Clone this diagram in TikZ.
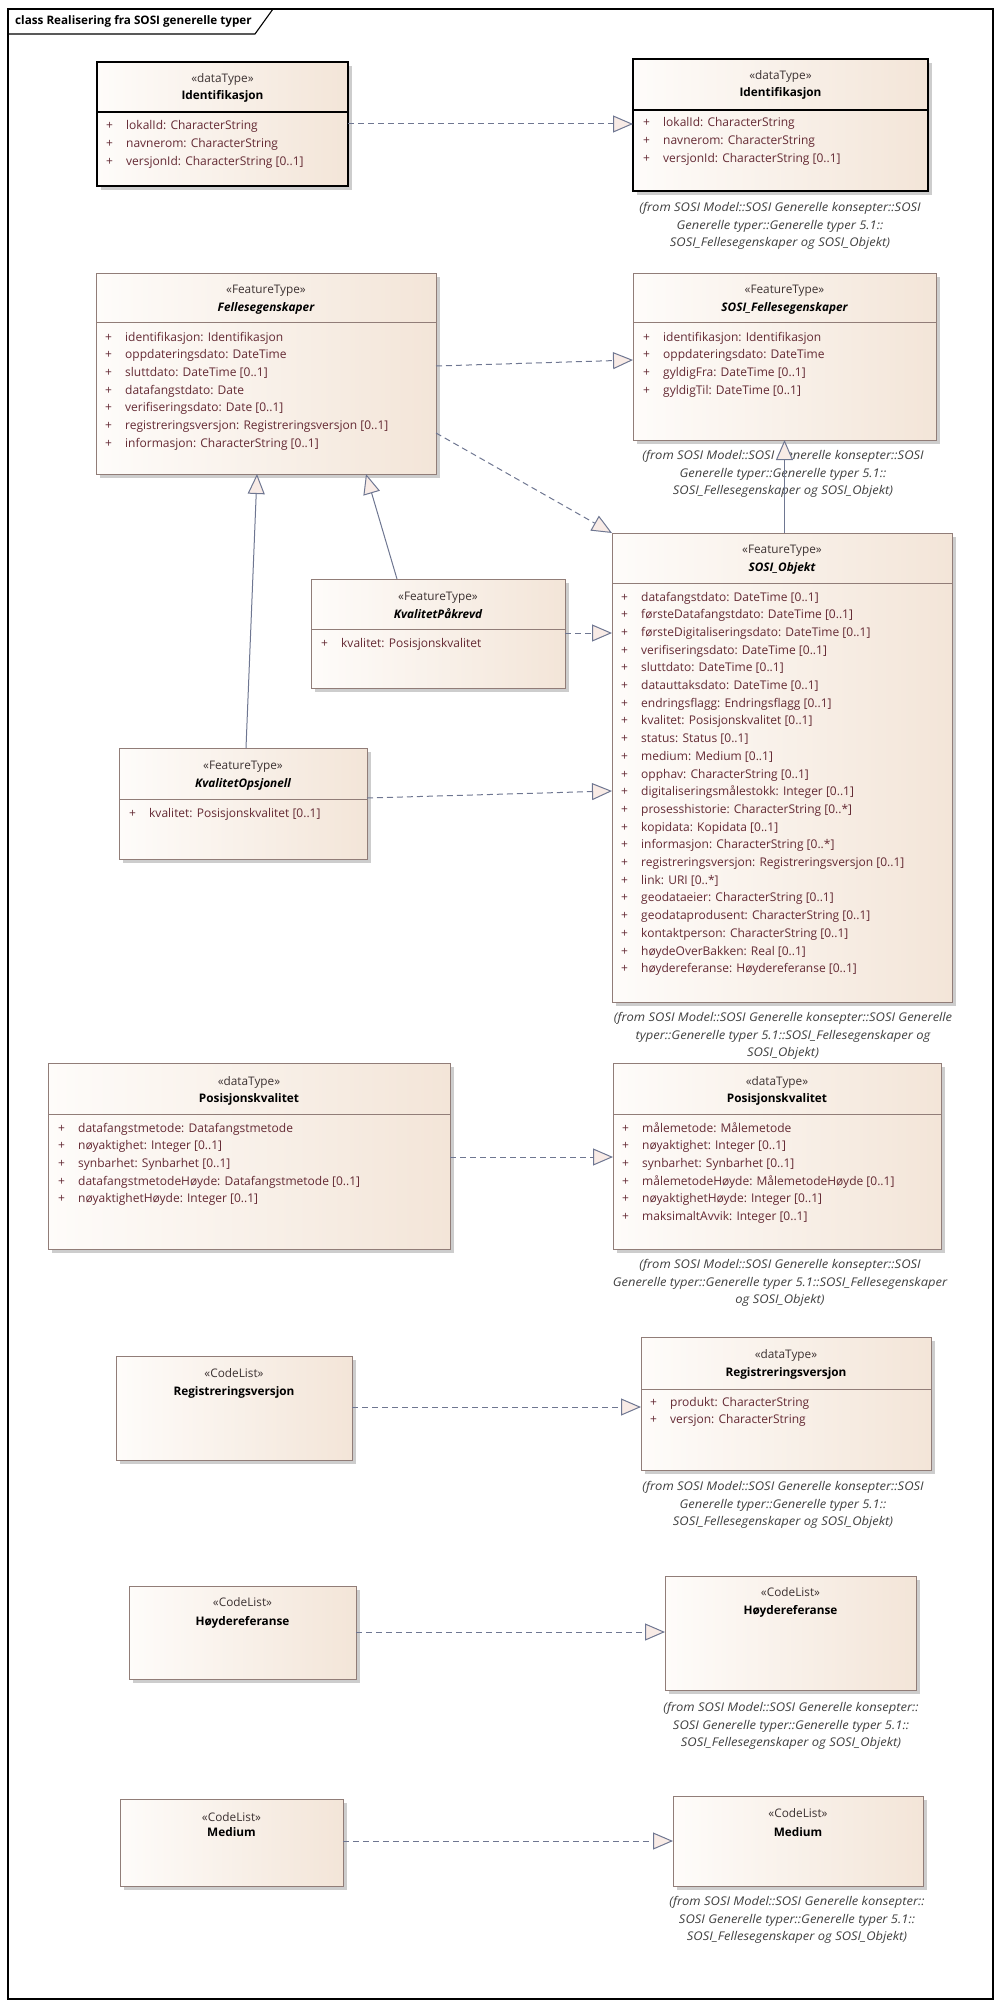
\documentclass[tikz,border=0pt]{standalone}
\usepackage{fontspec}
\setmainfont{Open Sans}
\newfontfamily\notefont[FakeStretch=1.08]{Open Sans}
\usetikzlibrary{arrows.meta,backgrounds,calc}
\definecolor{boxL}{RGB}{254,252,250}
\definecolor{boxR}{RGB}{243,229,216}
\definecolor{bord}{RGB}{145,125,120}
\definecolor{attrc}{RGB}{100,42,52}
\definecolor{stc}{RGB}{60,50,50}
\definecolor{notec}{RGB}{64,64,64}
\definecolor{conn}{RGB}{110,118,145}
\definecolor{trif}{RGB}{248,235,230}
\definecolor{shad}{RGB}{205,205,205}
\newcommand\attrlist[1]{\begin{tabular}[t]{@{}p{20pt}@{}l@{}}#1\end{tabular}}
\newcommand\ubox[6]{\node[#2, minimum width={#5-#3}, minimum height={#6-#4}] (#1) at (#3,#4) {};}
\tikzset{
 cls/.style={draw=bord, line width=0.8pt, left color=boxL, right color=boxR, inner sep=0pt, outer sep=0pt, anchor=north west},
 clsbold/.style={cls, draw=black, line width=1.8pt},
 sepline/.style={draw=bord, line width=0.8pt},
 sepbold/.style={draw=black, line width=1.2pt},
 stereo/.style={font=\fontsize{11.8}{13}\selectfont, text=stc, anchor=base, inner sep=0pt},
 nm/.style={font=\fontsize{11.8}{13}\selectfont\bfseries, anchor=base, inner sep=0pt},
 nmi/.style={nm, font=\fontsize{11.8}{13}\selectfont\bfseries\itshape},
 attr/.style={font=\fontsize{12}{17.7}\selectfont, text=attrc, anchor=base west, inner sep=0pt},
 note/.style={font=\notefont\fontsize{12}{17.6}\selectfont\itshape, text=notec, align=center, inner sep=0pt},
 real/.style={draw=conn, line width=1pt, dash pattern=on 6pt off 4pt, -{Triangle[length=20pt,width=17pt,fill=trif]}},
 gen/.style={draw=conn, line width=1pt, -{Triangle[length=20pt,width=17pt,fill=trif]}},
}
\begin{document}
\begin{tikzpicture}[x=1pt,y=-1pt]
\useasboundingbox (0,0) rectangle (1004,2009);
% frame
\draw[line width=1.3pt] (8,9) rectangle (993,1999);
\draw[line width=1.1pt] (8,34) -- (255,34) -- (273,9);
\node[anchor=base west, inner sep=0pt, font=\fontsize{11.7}{13}\selectfont\bfseries] (title) at (15,25) {class Realisering fra SOSI generelle typer};

% ---- Identifikasjon left
\ubox{idL}{clsbold}{97}{62}{348}{186}
\draw[sepbold] ([yshift=-50]idL.north west) -- ([yshift=-50]idL.north east);
\node[stereo] (idLs) at (222.5,83) {«dataType»};
\node[nm] (idLn) at (222.5,100) {Identifikasjon};
\node[attr] (idLa) at (106,130) {\attrlist{+ & lokalId: CharacterString\\ + & navnerom: CharacterString\\ + & versjonId: CharacterString [0..1]}};

% ---- Identifikasjon right
\ubox{idR}{clsbold}{633}{59}{928}{191}
\draw[sepbold] ([yshift=-51]idR.north west) -- ([yshift=-51]idR.north east);
\node[stereo] (idRs) at (780.5,80) {«dataType»};
\node[nm] (idRn) at (780.5,97) {Identifikasjon};
\node[attr] (idRa) at (643,127) {\attrlist{+ & lokalId: CharacterString\\ + & navnerom: CharacterString\\ + & versjonId: CharacterString [0..1]}};
\node[note] (idRnote) at (780,226) {(from SOSI Model::SOSI Generelle konsepter::SOSI\\Generelle typer::Generelle typer 5.1::\\SOSI\_Fellesegenskaper og SOSI\_Objekt)};

% ---- Fellesegenskaper
\ubox{fe}{cls}{96}{273}{436}{474}
\draw[sepline] ([yshift=-49]fe.north west) -- ([yshift=-49]fe.north east);
\node[stereo] (fes) at (266,293) {«FeatureType»};
\node[nmi] (fen) at (266,311) {Fellesegenskaper};
\node[attr] (fea) at (105,341) {\attrlist{+ & identifikasjon: Identifikasjon\\ + & oppdateringsdato: DateTime\\ + & sluttdato: DateTime [0..1]\\ + & datafangstdato: Date\\ + & verifiseringsdato: Date [0..1]\\ + & registreringsversjon: Registreringsversjon [0..1]\\ + & informasjon: CharacterString [0..1]}};

% ---- SOSI_Fellesegenskaper
\ubox{sfe}{cls}{633}{273}{936}{440}
\draw[sepline] ([yshift=-49]sfe.north west) -- ([yshift=-49]sfe.north east);
\node[stereo] (sfes) at (784.5,293) {«FeatureType»};
\node[nmi] (sfen) at (784.5,311) {SOSI\_Fellesegenskaper};
\node[attr] (sfea) at (643,341) {\attrlist{+ & identifikasjon: Identifikasjon\\ + & oppdateringsdato: DateTime\\ + & gyldigFra: DateTime [0..1]\\ + & gyldigTil: DateTime [0..1]}};
\node[note] (sfenote) at (783,474) {(from SOSI Model::SOSI Generelle konsepter::SOSI\\Generelle typer::Generelle typer 5.1::\\SOSI\_Fellesegenskaper og SOSI\_Objekt)};

% ---- SOSI_Objekt
\ubox{obj}{cls}{612}{533}{952}{1002}
\draw[sepline] ([yshift=-50]obj.north west) -- ([yshift=-50]obj.north east);
\node[stereo] (objs) at (782,553) {«FeatureType»};
\node[nmi] (objn) at (782,571) {SOSI\_Objekt};
\node[attr] (obja) at (621,601) {\attrlist{+ & datafangstdato: DateTime [0..1]\\ + & førsteDatafangstdato: DateTime [0..1]\\ + & førsteDigitaliseringsdato: DateTime [0..1]\\ + & verifiseringsdato: DateTime [0..1]\\ + & sluttdato: DateTime [0..1]\\ + & datauttaksdato: DateTime [0..1]\\ + & endringsflagg: Endringsflagg [0..1]\\ + & kvalitet: Posisjonskvalitet [0..1]\\ + & status: Status [0..1]\\ + & medium: Medium [0..1]\\ + & opphav: CharacterString [0..1]\\ + & digitaliseringsmålestokk: Integer [0..1]\\ + & prosesshistorie: CharacterString [0..*]\\ + & kopidata: Kopidata [0..1]\\ + & informasjon: CharacterString [0..*]\\ + & registreringsversjon: Registreringsversjon [0..1]\\ + & link: URI [0..*]\\ + & geodataeier: CharacterString [0..1]\\ + & geodataprodusent: CharacterString [0..1]\\ + & kontaktperson: CharacterString [0..1]\\ + & høydeOverBakken: Real [0..1]\\ + & høydereferanse: Høydereferanse [0..1]}};
\node[note] (objnote) at (783,1036) {(from SOSI Model::SOSI Generelle konsepter::SOSI Generelle\\typer::Generelle typer 5.1::SOSI\_Fellesegenskaper og\\SOSI\_Objekt)};

% ---- KvalitetPåkrevd
\ubox{kp}{cls}{311}{579}{565}{688}
\draw[sepline] ([yshift=-50]kp.north west) -- ([yshift=-50]kp.north east);
\node[stereo] (kps) at (438,600) {«FeatureType»};
\node[nmi] (kpn) at (438,618) {KvalitetPåkrevd};
\node[attr] (kpa) at (321,647) {\attrlist{+ & kvalitet: Posisjonskvalitet}};

% ---- KvalitetOpsjonell
\ubox{ko}{cls}{119}{748}{367}{859}
\draw[sepline] ([yshift=-51]ko.north west) -- ([yshift=-51]ko.north east);
\node[stereo] (kos) at (243,769) {«FeatureType»};
\node[nmi] (kon) at (243,787) {KvalitetOpsjonell};
\node[attr] (koa) at (129,817) {\attrlist{+ & kvalitet: Posisjonskvalitet [0..1]}};

% ---- Posisjonskvalitet left
\ubox{pkL}{cls}{48}{1063}{450}{1249}
\draw[sepline] ([yshift=-51]pkL.north west) -- ([yshift=-51]pkL.north east);
\node[stereo] (pkLs) at (249,1085) {«dataType»};
\node[nm] (pkLn) at (249,1102) {Posisjonskvalitet};
\node[attr] (pkLa) at (58,1132) {\attrlist{+ & datafangstmetode: Datafangstmetode\\ + & nøyaktighet: Integer [0..1]\\ + & synbarhet: Synbarhet [0..1]\\ + & datafangstmetodeHøyde: Datafangstmetode [0..1]\\ + & nøyaktighetHøyde: Integer [0..1]}};

% ---- Posisjonskvalitet right
\ubox{pkR}{cls}{613}{1063}{941}{1249}
\draw[sepline] ([yshift=-51]pkR.north west) -- ([yshift=-51]pkR.north east);
\node[stereo] (pkRs) at (777,1085) {«dataType»};
\node[nm] (pkRn) at (777,1102) {Posisjonskvalitet};
\node[attr] (pkRa) at (622,1132) {\attrlist{+ & målemetode: Målemetode\\ + & nøyaktighet: Integer [0..1]\\ + & synbarhet: Synbarhet [0..1]\\ + & målemetodeHøyde: MålemetodeHøyde [0..1]\\ + & nøyaktighetHøyde: Integer [0..1]\\ + & maksimaltAvvik: Integer [0..1]}};
\node[note] (pkRnote) at (780,1283) {(from SOSI Model::SOSI Generelle konsepter::SOSI\\Generelle typer::Generelle typer 5.1::SOSI\_Fellesegenskaper\\og SOSI\_Objekt)};

% ---- Registreringsversjon
\ubox{rvL}{cls}{116}{1356}{352}{1460}
\node[stereo] (rvLs) at (234,1377) {«CodeList»};
\node[nm] (rvLn) at (234,1395) {Registreringsversjon};
\ubox{rvR}{cls}{641}{1337}{931}{1470}
\draw[sepline] ([yshift=-52]rvR.north west) -- ([yshift=-52]rvR.north east);
\node[stereo] (rvRs) at (786,1358) {«dataType»};
\node[nm] (rvRn) at (786,1376) {Registreringsversjon};
\node[attr] (rvRa) at (650,1406) {\attrlist{+ & produkt: CharacterString\\ + & versjon: CharacterString}};
\node[note] (rvRnote) at (783,1505) {(from SOSI Model::SOSI Generelle konsepter::SOSI\\Generelle typer::Generelle typer 5.1::\\SOSI\_Fellesegenskaper og SOSI\_Objekt)};

% ---- Høydereferanse
\ubox{hrL}{cls}{129}{1586}{356}{1679}
\node[stereo] (hrLs) at (242.5,1606) {«CodeList»};
\node[nm] (hrLn) at (242.5,1625) {Høydereferanse};
\ubox{hrR}{cls}{665}{1576}{916}{1690}
\node[stereo] (hrRs) at (790.5,1596) {«CodeList»};
\node[nm] (hrRn) at (790.5,1614) {Høydereferanse};
\node[note] (hrRnote) at (791,1726) {(from SOSI Model::SOSI Generelle konsepter::\\SOSI Generelle typer::Generelle typer 5.1::\\SOSI\_Fellesegenskaper og SOSI\_Objekt)};

% ---- Medium
\ubox{mdL}{cls}{120}{1799}{343}{1886}
\node[stereo] (mdLs) at (231.5,1821) {«CodeList»};
\node[nm] (mdLn) at (231.5,1836) {Medium};
\ubox{mdR}{cls}{673}{1796}{923}{1886}
\node[stereo] (mdRs) at (798,1817) {«CodeList»};
\node[nm] (mdRn) at (798,1836) {Medium};
\node[note] (mdRnote) at (797,1920) {(from SOSI Model::SOSI Generelle konsepter::\\SOSI Generelle typer::Generelle typer 5.1::\\SOSI\_Fellesegenskaper og SOSI\_Objekt)};

% ---- shadows
\begin{scope}[on background layer]
\foreach \n in {idL,idR,fe,sfe,obj,kp,ko,pkL,pkR,rvL,rvR,hrL,hrR,mdL,mdR}
  \fill[shad] ([shift={(4pt,-4pt)}]\n.north west) rectangle ([shift={(4pt,-4pt)}]\n.south east);
\end{scope}

% ---- connectors
\draw[real] ([yshift=-62]idL.north east) -- ([yshift=-65]idR.north west);
\draw[real] ([yshift=-93]fe.north east) -- ([yshift=-87]sfe.north west);
\draw[real] ([yshift=-160]fe.north east) -- (obj.north west);
\draw[gen] (obj.north -| sfe.south) -- (sfe.south);
\draw[gen] ([xshift=-41]kp.north) -- ([xshift=100]fe.south);
\draw[gen] ([xshift=3]ko.north) -- ([xshift=-9]fe.south);
\draw[real] ([yshift=-54]kp.north east) -- ([yshift=-100]obj.north west);
\draw[real] ([yshift=-50]ko.north east) -- ([yshift=-258]obj.north west);
\draw[real] ([yshift=-94]pkL.north east) -- ([yshift=-94]pkR.north west);
\draw[real] ([yshift=-51]rvL.north east) -- ([yshift=-70]rvR.north west);
\draw[real] ([yshift=-46]hrL.north east) -- ([yshift=-56]hrR.north west);
\draw[real] ([yshift=-42]mdL.north east) -- ([yshift=-45]mdR.north west);
\end{tikzpicture}
\end{document}
